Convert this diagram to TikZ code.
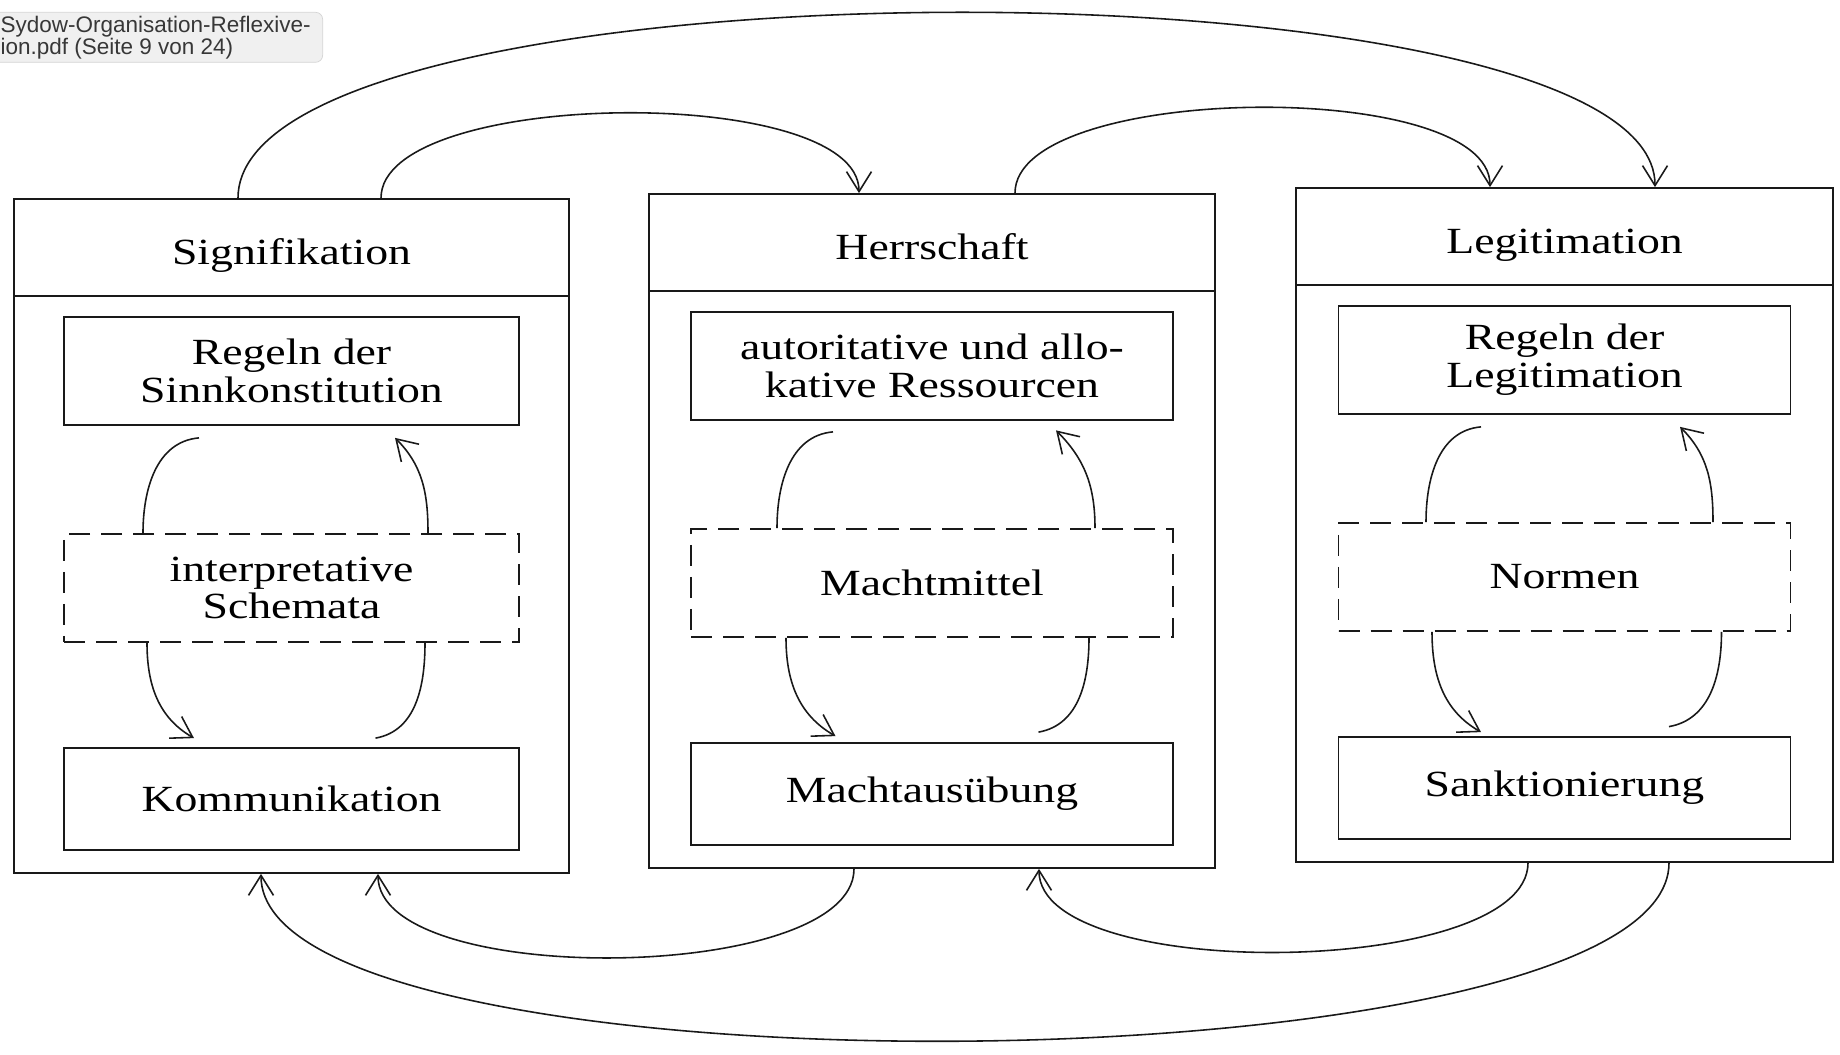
\documentclass[tikz,border=0pt]{standalone}
\usepackage{fontspec}
\setmainfont{Liberation Serif}[FakeStretch=1.24]
\newfontfamily\uifont{Liberation Sans}
\usetikzlibrary{arrows.meta}

\definecolor{strucLine}{RGB}{25,25,25}
\definecolor{strucTipFill}{RGB}{240,240,240}
\definecolor{strucTipDraw}{RGB}{212,212,212}
\definecolor{strucTipText}{RGB}{55,55,55}

\begin{document}
\begin{tikzpicture}[x=1cm, y=1cm, font=\fontsize{21}{21.5}\selectfont,
  panelhead/.style={draw=strucLine, line width=1pt, minimum height=1.94cm, inner sep=0pt,
                    text height=1.9em, text depth=0pt},
  panelbody/.style={draw=strucLine, line width=1pt, minimum height=11.54cm, inner sep=0pt},
  rulebox/.style={draw=strucLine, line width=1pt, align=center, minimum height=2.16cm, inner sep=0pt},
  modalbox/.style={rulebox, dash pattern=on 4.2mm off 2.2mm},
  link/.style={draw=strucLine, line width=0.9pt},
  flow/.style={link, -{Straight Barb[length=4mm, width=5mm]}},
  tooltip/.style={draw=strucTipDraw, fill=strucTipFill, rounded corners=4pt, align=left,
                  text=strucTipText, inner xsep=0.24cm, inner ysep=2pt,
                  font=\uifont\fontsize{12.8}{12.5}\selectfont}]
\useasboundingbox (0,0) rectangle (36.8,21.1);

%% viewer tooltip, cut at the left edge
\node[tooltip, anchor=north east] (tip) at (6.46, 20.86)
  {Sydow-Organisation-Reflexive-\\ion.pdf (Seite 9 von 24)};

%% Panel A: Signifikation
\begin{scope}[shift={(5.83,17.12)}]
  \node[panelhead, minimum width=11.1cm] (sigHead) at (0,-0.97) {Signifikation};
  \node[panelbody, minimum width=11.1cm] (sigBody) at (0,-7.71) {};
  \node[rulebox, minimum width=9.1cm] (sigRules) at (0,-3.44) {Regeln der\\Sinnkonstitution};
  \node[modalbox, minimum width=9.1cm] (sigSchema) at (0,-7.78) {interpretative\\Schemata};
  \node[rulebox, minimum width=9.1cm, minimum height=2.04cm] (sigComm) at (0,-12.0) {Kommunikation};
\end{scope}
\draw[link] ([shift={(-1.85,-0.24)}]sigRules.south) to[out=185, in=90] ([xshift=-2.97cm]sigSchema.north);
\draw[flow] ([xshift=2.73cm]sigSchema.north) to[out=90, in=-45] ([shift={(2.07,-0.24)}]sigRules.south);
\draw[flow] ([xshift=-2.89cm]sigSchema.south) to[out=-90, in=150] ([shift={(-1.95,0.18)}]sigComm.north);
\draw[link] ([shift={(1.68,0.18)}]sigComm.north) to[out=10, in=-90] ([xshift=2.67cm]sigSchema.south);

%% Panel B: Herrschaft
\begin{scope}[shift={(18.64,17.22)}]
  \node[panelhead, minimum width=11.32cm] (herHead) at (0,-0.97) {Herrschaft};
  \node[panelbody, minimum width=11.32cm] (herBody) at (0,-7.71) {};
  \node[rulebox, minimum width=9.64cm] (herRes) at (0,-3.44) {autoritative und allo-\\kative Ressourcen};
  \node[modalbox, minimum width=9.64cm] (herMeans) at (0,-7.78) {Machtmittel};
  \node[rulebox, minimum width=9.64cm, minimum height=2.04cm] (herPower) at (0,-12.0) {Machtausübung};
\end{scope}
\draw[link] ([shift={(-1.98,-0.22)}]herRes.south) to[out=185, in=90] ([xshift=-3.1cm]herMeans.north);
\draw[flow] ([xshift=3.26cm]herMeans.north) to[out=90, in=-45] ([shift={(2.48,-0.19)}]herRes.south);
\draw[flow] ([xshift=-2.92cm]herMeans.south) to[out=-90, in=150] ([shift={(-1.93,0.12)}]herPower.north);
\draw[link] ([shift={(2.13,0.2)}]herPower.north) to[out=10, in=-90] ([xshift=3.14cm]herMeans.south);

%% Panel C: Legitimation
\begin{scope}[shift={(31.29,17.34)}]
  \node[panelhead, minimum width=10.74cm] (legHead) at (0,-0.97) {Legitimation};
  \node[panelbody, minimum width=10.74cm] (legBody) at (0,-7.71) {};
  \node[rulebox, minimum width=9.04cm] (legRules) at (0,-3.44) {Regeln der\\Legitimation};
  \node[modalbox, minimum width=9.04cm] (legNorms) at (0,-7.78) {Normen};
  \node[rulebox, minimum width=9.04cm, minimum height=2.04cm] (legSanc) at (0,-12.0) {Sanktionierung};
\end{scope}
\draw[link] ([shift={(-1.67,-0.24)}]legRules.south) to[out=185, in=90] ([xshift=-2.77cm]legNorms.north);
\draw[flow] ([xshift=2.97cm]legNorms.north) to[out=90, in=-45] ([shift={(2.31,-0.24)}]legRules.south);
\draw[flow] ([xshift=-2.65cm]legNorms.south) to[out=-90, in=150] ([shift={(-1.67,0.08)}]legSanc.north);
\draw[link] ([shift={(2.09,0.19)}]legSanc.north) to[out=10, in=-90] ([xshift=3.14cm]legNorms.south);

%% arcs between the panels
\draw[flow] ([xshift=1.79cm]sigHead.north) .. controls +(0,2.2) and +(0,2.2) .. ([xshift=-1.46cm]herHead.north);
\draw[flow] ([xshift=1.66cm]herHead.north) .. controls +(0,2.2) and +(0,2.2) .. ([xshift=-1.49cm]legHead.north);
\draw[flow] ([xshift=-1.07cm]sigHead.north) .. controls +(0,4.9) and +(0,4.7) .. ([xshift=1.81cm]legHead.north);
\draw[flow] ([xshift=-1.56cm]herBody.south) .. controls +(0,-2.3) and +(0,-2.3) .. ([xshift=1.73cm]sigBody.south);
\draw[flow] ([xshift=-0.73cm]legBody.south) .. controls +(0,-2.3) and +(0,-2.3) .. ([xshift=2.14cm]herBody.south);
\draw[flow] ([xshift=2.09cm]legBody.south) .. controls +(0,-4.6) and +(0,-4.6) .. ([xshift=-0.61cm]sigBody.south);
\end{tikzpicture}
\end{document}
